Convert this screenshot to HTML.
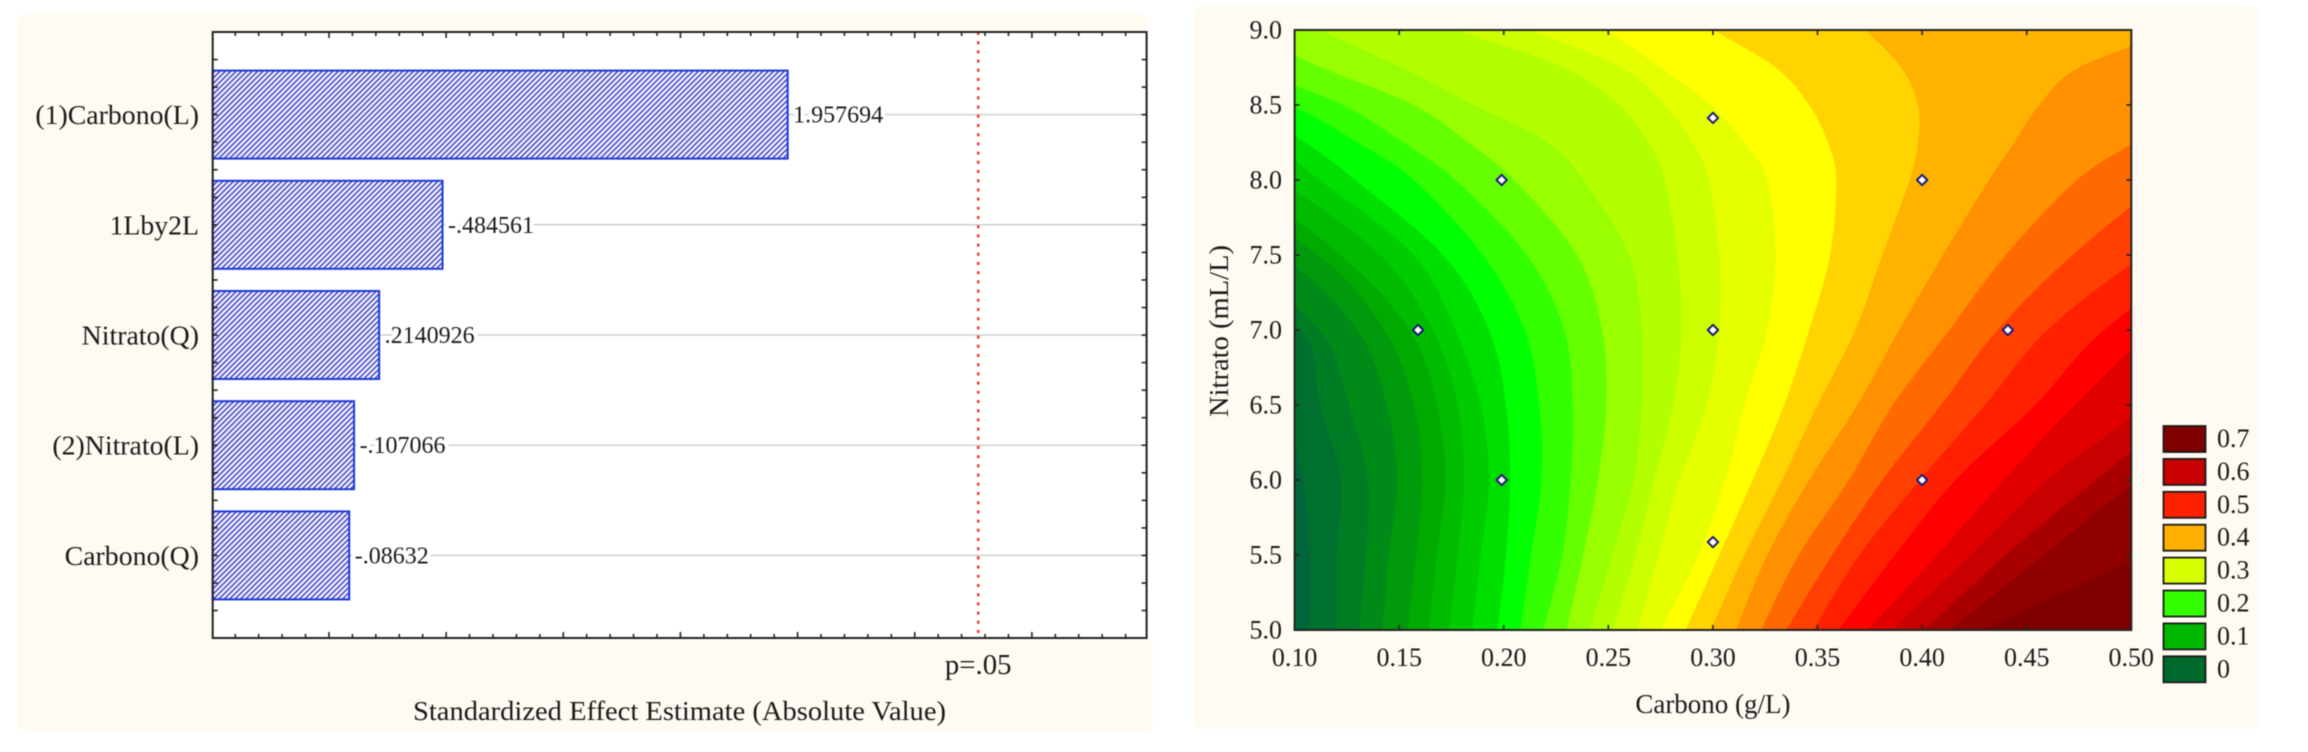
<!DOCTYPE html>
<html lang="pt">
<head>
<meta charset="utf-8">
<title>Pareto chart and response surface</title>
<style>
html,body{margin:0;padding:0;background:#fff;width:2308px;height:752px;overflow:hidden}
svg{display:block;filter:blur(0.5px)}
text{font-family:"Liberation Serif",serif;fill:#1a1a1a}
</style>
</head>
<body>
<svg id="figure" xmlns="http://www.w3.org/2000/svg" width="2308" height="752" viewBox="0 0 2308 752">
  <defs>
    <pattern id="hatch" patternUnits="userSpaceOnUse" width="3.8" height="3.8" patternTransform="rotate(45)">
      <rect width="3.8" height="3.8" fill="#f6f6ff"/>
      <rect x="0" y="0" width="1.5" height="3.8" fill="#4242c6"/>
    </pattern>
    <clipPath id="plot-clip"><rect x="1294.6" y="30" width="836.7" height="600"/></clipPath>
  </defs>
  <rect x="18" y="14" width="1130" height="718" rx="8" fill="#fffbf3"/>
  <rect x="1100" y="638" width="53" height="94" rx="4" fill="#fffbf3"/>
  <rect x="1194" y="6" width="1065" height="723" rx="8" fill="#fffbf3"/>
  <rect x="212.7" y="32" width="933.9" height="606" fill="#ffffff"/>
  <g id="pareto"></g>
  <g id="contour"></g>
</svg>
<script>
// ---------- Pareto chart data ----------
const effectNames = ["(1)Carbono(L)", "1Lby2L", "Nitrato(Q)", "(2)Nitrato(L)", "Carbono(Q)"];
const effectValues = [1.957694, -0.484561, 0.2140926, -0.107066, -0.08632];
const pThreshold = 2.771;
const pLabel = "p=.05";
const paretoAxisTitle = "Standardized Effect Estimate (Absolute Value)";

// ---------- Contour chart data ----------
const nitrateRows = [9, 8.75, 8.5, 8.25, 8, 7.5, 7, 6.5, 6, 5.5, 5];
// Carbon position of each contour at every nitrate row (values outside 0.10-0.50 fall beyond the frame)
const contour1 = [-.205,-.173,-.141,-.093,-.062,.026,.082,.095,.104,.107,.107];
const contour2 = [-.173,-.141,-.109,-.062,-.030,.050,.103,.112,.122,.120,.120];
const contour3 = [-.141,-.109,-.077,-.030,-.006,.066,.112,.126,.135,.134,.131];
const contour4 = [-.109,-.077,-.046,.002,.026,.093,.130,.144,.149,.145,.142];
const contour5 = [-.077,-.046,-.014,.026,.050,.111,.143,.157,.161,.158,.154];
const contour6 = [-.046,-.014,.018,.047,.074,.122,.155,.168,.172,.168,.164];
const contour7 = [-.030,.002,.034,.066,.093,.141,.166,.178,.181,.178,.174];
const contour8 = [-.014,.018,.050,.088,.112,.157,.177,.189,.193,.189,.185];
const contour9 = [-.014,.026,.074,.105,.129,.171,.193,.201,.203,.201,.197];
const contour10 = [.018,.050,.098,.130,.157,.190,.210,.217,.218,.213,.208];
const contour11 = [.050,.079,.123,.152,.177,.211,.229,.233,.232,.228,.219];
const contour12 = [.074,.113,.157,.183,.205,.235,.247,.249,.245,.238,.230];
const contour13 = [.112,.151,.186,.221,.238,.260,.266,.266,.262,.252,.241];
const contour14 = [.177,.229,.255,.269,.277,.283,.285,.281,.272,.263,.252];
const contour15 = [.213,.256,.277,.290,.298,.303,.303,.297,.284,.274,.264];
const contour16 = [.249,.275,.299,.315,.326,.330,.326,.315,.306,.293,.275];
const contour17 = [.300,.330,.346,.355,.359,.356,.346,.334,.319,.303,.287];
const contour18 = [.373,.390,.398,.398,.394,.381,.368,.350,.333,.315,.299];
const contour19 = [.522,.475,.456,.444,.432,.410,.389,.369,.346,.326,.311];
const contour20 = [.617,.570,.525,.501,.474,.440,.413,.386,.365,.341,.323];
const contour21 = [.703,.656,.608,.554,.517,.472,.436,.409,.381,.357,.335];
const contour22 = [.799,.751,.703,.640,.562,.506,.460,.430,.399,.370,.348];
const contour23 = [.895,.847,.799,.703,.601,.539,.487,.454,.416,.387,.360];
const contour24 = [.958,.911,.863,.767,.672,.562,.511,.473,.439,.407,.374];
const contour25 = [1.022,.974,.926,.831,.719,.608,.541,.507,.460,.423,.386];
const contour26 = [1.054,1.022,.974,.895,.783,.672,.584,.530,.483,.440,.401];
const contour27 = [1.134,1.086,1.038,.958,.863,.735,.624,.568,.504,.458,.413];
const contour28 = [1.213,1.165,1.118,1.054,.958,.831,.735,.656,.584,.506,.428];
const contours = [contour1,contour2,contour3,contour4,contour5,contour6,contour7,contour8,contour9,contour10,contour11,contour12,contour13,contour14,contour15,contour16,contour17,contour18,contour19,contour20,contour21,contour22,contour23,contour24,contour25,contour26,contour27,contour28];
const bandColors = ["#00663c","#00702f","#007c24","#008a18","#009a0c","#00aa00","#00bb00","#00cc00","#00e000","#00ff00","#33ff00","#66ff00","#99ff00","#b3ff00","#ccff00","#e6ff00","#ffff00","#ffd400","#ffb300","#ff9000","#ff6a00","#ff4000","#ff2000","#ff0000","#e00000","#c80000","#a80000","#900000","#800000"];
const designCarbon = [0.159, 0.199, 0.199, 0.3, 0.3, 0.3, 0.4, 0.4, 0.441];
const designNitrate = [7, 6, 8, 5.586, 7, 8.414, 6, 8, 7];
const carbonTicks = [0.10, 0.15, 0.20, 0.25, 0.30, 0.35, 0.40, 0.45, 0.50];
const nitrateTicks = [5, 5.5, 6, 6.5, 7, 7.5, 8, 8.5, 9];
const legendLabels = ["0.7", "0.6", "0.5", "0.4", "0.3", "0.2", "0.1", "0"];
const legendColors = ["#800000", "#c80000", "#ff2000", "#ffb000", "#d8ff00", "#33ff00", "#00b800", "#006a2c"];
const carbonTitle = "Carbono (g/L)";
const nitrateTitle = "Nitrato (mL/L)";

const NS = "http://www.w3.org/2000/svg";
function el(tag, attrs, parent, txt) {
  const e = document.createElementNS(NS, tag);
  for (const k in attrs) e.setAttribute(k, attrs[k]);
  if (txt !== undefined) e.textContent = txt;
  parent.appendChild(e);
  return e;
}

// ---------- Pareto chart ----------
(function () {
  const g = document.getElementById("pareto");
  const L = 212.7, R = 1146.6, T = 32, B = 638;
  const vMin = -0.4963, vMax = 3.4896;
  const px = v => L + (v - vMin) / (vMax - vMin) * (R - L);
  const step = 110.2;
  const py = i => 114.6 + i * step;
  const halfBar = 44;

  effectNames.forEach((n, i) => {
    const line = el("line", {x1: L, x2: R, y1: py(i), y2: py(i), stroke: "#cfcfcf", "stroke-width": 1.5}, g);
    
    
  });

  effectNames.forEach((n, i) => {
    const v = effectValues[i];
    const bar = el("rect", {x: L, y: py(i) - halfBar, width: px(Math.abs(v)) - L, height: halfBar * 2, fill: "url(#hatch)", stroke: "#1c38d8", "stroke-width": 2}, g);
    
    

    const lab = el("text", {x: 199, y: py(i) + 9.5, "text-anchor": "end", "font-size": 27.8}, g, n);
    
    

    const valText = String(v).replace(/^(-?)0\./, "$1.");
    const val = el("text", {x: px(Math.abs(v)) + 5.5, y: py(i) + 8, "font-size": 24, stroke: "#fff", "stroke-width": 8, "paint-order": "stroke", "stroke-linejoin": "round"}, g, valText);
    
    
  });

  const pLine = el("line", {x1: px(pThreshold), x2: px(pThreshold), y1: T, y2: B, stroke: "#e8403c", "stroke-width": 2.6, "stroke-dasharray": "3 6.2"}, g);
  
  

  for (let t = -4; t <= 34; t++) {
    const v = t / 10, len = t % 5 === 0 ? 6 : 4;
    [[B, B - len], [T, T + len]].forEach(p => {
      const tk = el("line", {x1: px(v), x2: px(v), y1: p[0], y2: p[1], stroke: "#222", "stroke-width": 1.6}, g);
      
      
    });
  }
  for (let t = 1; t < 22; t++) {
    const y = T + t * 27.55;
    [[L, L + 5], [R, R - 5]].forEach(p => {
      const tk = el("line", {x1: p[0], x2: p[1], y1: y, y2: y, stroke: "#222", "stroke-width": 1.6}, g);
      
      
    });
  }

  const frame = el("rect", {x: L, y: T, width: R - L, height: B - T, fill: "none", stroke: "#222", "stroke-width": 2}, g);
  
  

  const pt = el("text", {x: px(pThreshold), y: 674, "text-anchor": "middle", "font-size": 28.8}, g, pLabel);
  
  

  const at = el("text", {x: 413, y: 720, "font-size": 27, textLength: 533, lengthAdjust: "spacingAndGlyphs"}, g, paretoAxisTitle);
  
  
})();

// ---------- Contour chart ----------
(function () {
  const g = document.getElementById("contour");
  const L = 1294.6, R = 2131.3, T = 30, B = 630;
  const px = c => L + (c - 0.1) / 0.4 * (R - L);
  const py = n => B - (n - 5) / 4 * (B - T);

  const plot = el("g", {"clip-path": "url(#plot-clip)"}, g);
  
  

  const base = el("rect", {x: L, y: T, width: R - L, height: B - T, fill: bandColors[0]}, plot);
  
  

  contours.forEach((c, k) => {
    const pts = c.map((v, i) => [px(v), py(nitrateRows[i])]);
    let d = "M" + pts[0][0].toFixed(1) + " " + pts[0][1].toFixed(1);
    for (let i = 0; i < pts.length - 1; i++) {
      const p0 = pts[Math.max(i - 1, 0)], p1 = pts[i], p2 = pts[i + 1], p3 = pts[Math.min(i + 2, pts.length - 1)];
      const c1x = p1[0] + (p2[0] - p0[0]) / 6, c1y = p1[1] + (p2[1] - p0[1]) / 6;
      const c2x = p2[0] - (p3[0] - p1[0]) / 6, c2y = p2[1] - (p3[1] - p1[1]) / 6;
      d += "C" + c1x.toFixed(1) + " " + c1y.toFixed(1) + " " + c2x.toFixed(1) + " " + c2y.toFixed(1) + " " + p2[0].toFixed(1) + " " + p2[1].toFixed(1);
    }
    d += "L" + px(2) + " " + py(nitrateRows[nitrateRows.length - 1]) + "L" + px(2) + " " + py(nitrateRows[0]) + "Z";
    const band = el("path", {d: d, fill: bandColors[k + 1]}, plot);
    
    
  });

  designCarbon.forEach((c, i) => {
    const x = px(c), y = py(designNitrate[i]), r = 5.2;
    const m = el("path", {d: "M" + x + " " + (y - r) + "L" + (x + r) + " " + y + "L" + x + " " + (y + r) + "L" + (x - r) + " " + y + "Z", fill: "#fff", stroke: "#1c1c78", "stroke-width": 2, "stroke-linejoin": "round"}, g);
    
    
  });

  carbonTicks.forEach(c => {
    [[B, B - 5], [T, T + 5]].forEach(p => {
      const tk = el("line", {x1: px(c), x2: px(c), y1: p[0], y2: p[1], stroke: "#222", "stroke-width": 1.6}, g);
      
      
    });
    const t = el("text", {x: px(c), y: 666, "text-anchor": "middle", "font-size": 26}, g, c.toFixed(2));
    
    
  });
  nitrateTicks.forEach(n => {
    [[L, L + 5], [R, R - 5]].forEach(p => {
      const tk = el("line", {x1: p[0], x2: p[1], y1: py(n), y2: py(n), stroke: "#222", "stroke-width": 1.6}, g);
      
      
    });
    const t = el("text", {x: 1282, y: py(n) + 8.5, "text-anchor": "end", "font-size": 26}, g, n.toFixed(1));
    
    
  });

  const frame = el("rect", {x: L, y: T, width: R - L, height: B - T, fill: "none", stroke: "#222", "stroke-width": 2}, g);
  
  

  const xt = el("text", {x: px(0.3), y: 713, "text-anchor": "middle", "font-size": 27}, g, carbonTitle);
  
  

  const yt = el("text", {x: 0, y: 0, "text-anchor": "middle", "font-size": 27, textLength: 172, lengthAdjust: "spacingAndGlyphs", transform: "translate(1228 331) rotate(-90)"}, g, nitrateTitle);
  
  

  legendLabels.forEach((lab, i) => {
    const y = 426 + i * 32.9;
    const sw = el("rect", {x: 2163.5, y: y, width: 42, height: 26, fill: legendColors[i], stroke: "#1a1a1a", "stroke-width": 1.8}, g);
    
    
    const t = el("text", {x: 2217, y: y + 21, "font-size": 26}, g, lab);
    
    
  });
})();
</script>
</body>
</html>
